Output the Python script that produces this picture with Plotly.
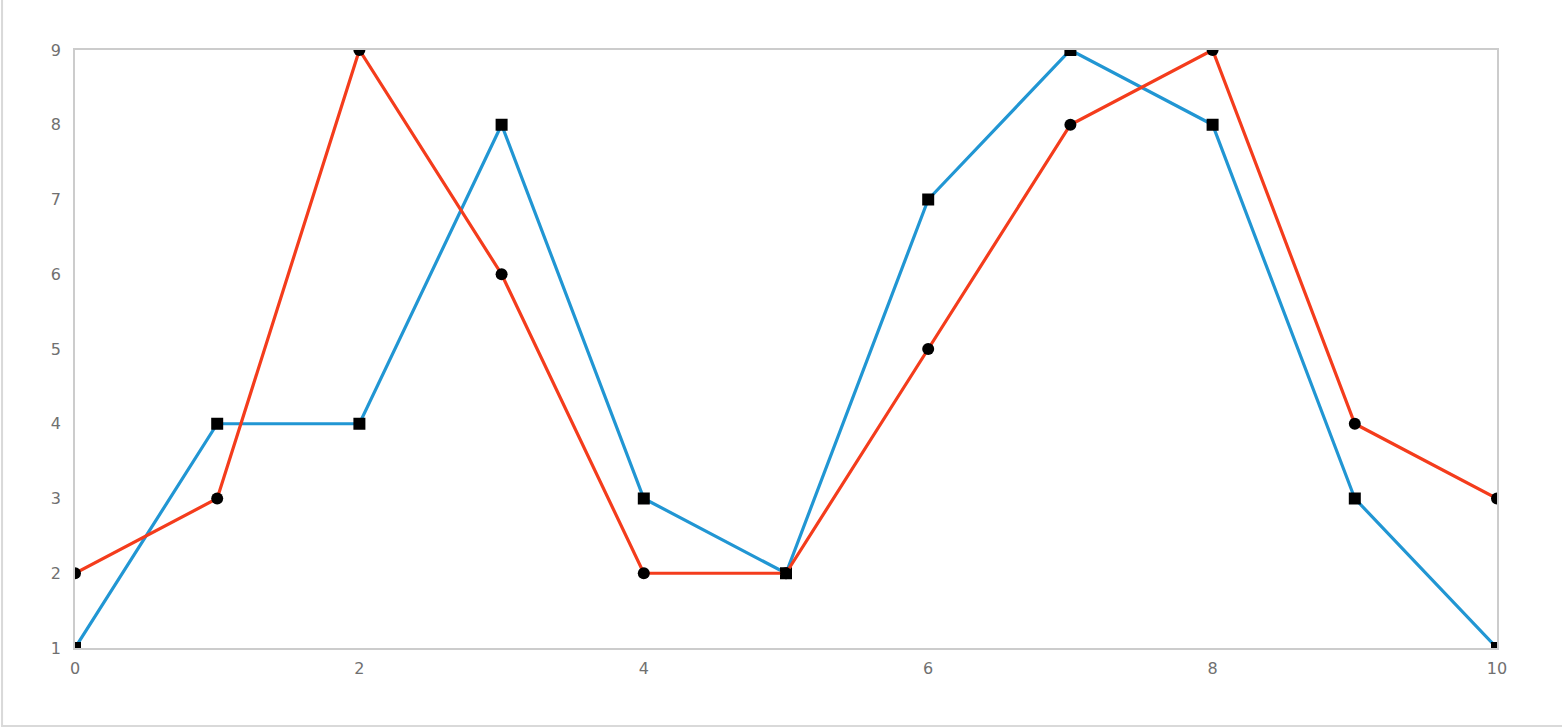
""" Two series drawn as lines with black markers. """

import plotly.graph_objects as go

# Data
x_values = [0, 1, 2, 3, 4, 5, 6, 7, 8, 9, 10]
blue_values = [1, 4, 4, 8, 3, 2, 7, 9, 8, 3, 1]
red_values = [2, 3, 9, 6, 2, 2, 5, 8, 9, 4, 3]

fig = go.Figure()

# Blue line with square markers
fig.add_trace(go.Scatter(x=x_values, y=blue_values, mode='lines+markers',
                         line=dict(color='#2196d3', width=3.2),
                         marker=dict(symbol='square', color='black', size=12)))

# Red line with circle markers
fig.add_trace(go.Scatter(x=x_values, y=red_values, mode='lines+markers',
                         line=dict(color='#f43c1c', width=3.2),
                         marker=dict(symbol='circle', color='black', size=12)))

axis_style = dict(showgrid=False, zeroline=False, showline=True, mirror=True,
                  linecolor='#cccccc', linewidth=1.5, ticks='',
                  tickfont=dict(family='DejaVu Sans', size=16, color='#707070'))

fig.update_layout(
    width=1562, height=728,
    margin=dict(l=75, r=65, t=50, b=80),
    paper_bgcolor='white', plot_bgcolor='white',
    showlegend=False,
    xaxis=dict(range=[0, 10], dtick=2, ticklabelstandoff=5, **axis_style),
    yaxis=dict(range=[1, 9], dtick=1, ticklabelstandoff=9, **axis_style),
)

# Outer frame, partly cut off by the picture edge
fig.add_shape(type='rect', xref='paper', yref='paper',
              x0=-0.0513, x1=1.2, y0=-0.1304, y1=1.2,
              line=dict(color='#d9d9d9', width=2))

# Drop the page margin so the figure sits at the window corner
fig.write_html('out.html', config={'displayModeBar': False},
               post_script="document.body.style.margin='0';")
